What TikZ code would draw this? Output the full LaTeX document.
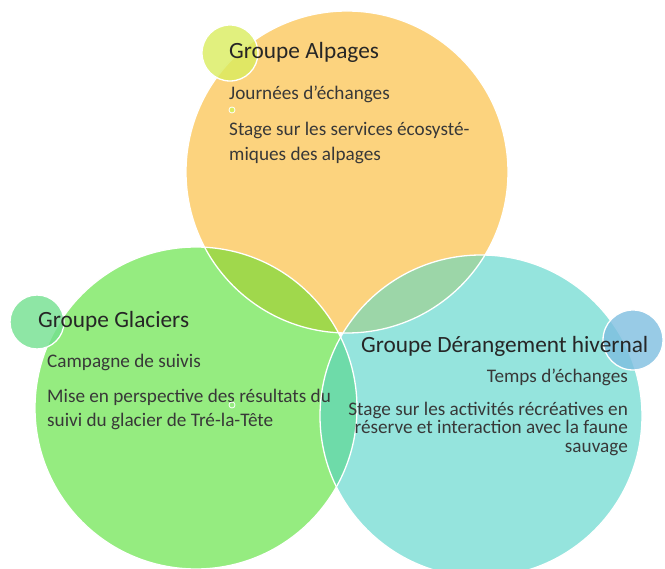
\documentclass[tikz,border=0pt]{standalone}
\usepackage{fontspec}
\setmainfont{Carlito}
\definecolor{cYel}{HTML}{FCD37E}
\definecolor{cGre}{HTML}{95EC80}
\definecolor{cCya}{HTML}{95E4DD}
\definecolor{cYG}{HTML}{A0D84C}
\definecolor{cYC}{HTML}{9CD6A8}
\definecolor{cGC}{HTML}{6EDBA9}
\definecolor{cYGC}{HTML}{86CF8C}
\definecolor{txtT}{HTML}{262626}
\definecolor{txtB}{HTML}{383838}
\definecolor{bYel}{HTML}{D9EC5E}
\definecolor{bGre}{HTML}{72E08E}
\definecolor{bBlu}{HTML}{7EBEE0}
\begin{document}
\begin{tikzpicture}[x=1pt,y=-1pt,
  title/.style={font=\fontsize{23.3}{28}\selectfont, text=txtT, inner sep=0pt},
  body/.style={font=\fontsize{19.2}{23}\selectfont, text=txtB, inner sep=0pt},
  outline/.style={draw=white, line width=1.3pt},
  badge/.style={draw=white, line width=1.3pt, fill opacity=0.8}]
\useasboundingbox (0,0) rectangle (665,569);
\clip (0,0) rectangle (665,569);
\coordinate (cA) at (347,172);
\coordinate (cG) at (196,408);
\coordinate (cD) at (481,416);
\def\rA{161pt}\def\rG{161pt}\def\rD{161pt}
\fill[cYel] (cA) circle[radius=\rA];
\fill[cGre] (cG) circle[radius=\rG];
\fill[cCya] (cD) circle[radius=\rD];
\begin{scope}
  \clip (cA) circle[radius=\rA];
  \fill[cYG] (cG) circle[radius=\rG];
  \fill[cYC] (cD) circle[radius=\rD];
  \clip (cG) circle[radius=\rG];
  \fill[cYGC] (cD) circle[radius=\rD];
\end{scope}
\begin{scope}
  \clip (cG) circle[radius=\rG];
  \clip (cD) circle[radius=\rD];
  \fill[cGC] (cG) circle[radius=\rG];
\end{scope}
\node[body, anchor=base west] (g1) at (47,368) {Campagne de suivis};
\node[body, anchor=base west] (g2) at (47,403) {Mise en perspective des résultats du};
\node[body, anchor=base west] (g3) at (47,427) {suivi du glacier de Tré-la-Tête};
\draw[outline] (cA) circle[radius=\rA];
\draw[outline] (cG) circle[radius=\rG];
\draw[outline] (cD) circle[radius=\rD];
\draw[badge, fill=bYel] (230,53) circle[radius=28pt];
\draw[badge, fill=bGre] (37,322) circle[radius=27pt];
\draw[badge, fill=bBlu] (633,340) circle[radius=30pt];
\draw[white, line width=0.8pt, fill=bYel] (232,110) circle[radius=3pt];
\draw[white, line width=0.8pt, fill=cGre] (232,405) circle[radius=3pt];
\node[title, anchor=base west] (tG) at (38,328) {Groupe Glaciers};
\node[title, anchor=base west] (tA) at (229,59) {Groupe Alpages};
\node[body, anchor=base west] (a1) at (229,100) {Journées d’échanges};
\node[body, anchor=base west] (a2) at (229,136) {Stage sur les services écosysté-};
\node[body, anchor=base west] (a3) at (229,161) {miques des alpages};
\node[title, anchor=base west] (tD) at (361,353) {Groupe Dérangement hivernal};
\node[body, anchor=base east] (d1) at (628,383) {Temps d’échanges};
\node[body, anchor=base east] (d2) at (628,416) {Stage sur les activités récréatives en};
\node[body, anchor=base east] (d3) at (628,434) {réserve et interaction avec la faune};
\node[body, anchor=base east] (d4) at (628,453) {sauvage};
\end{tikzpicture}
\end{document}
